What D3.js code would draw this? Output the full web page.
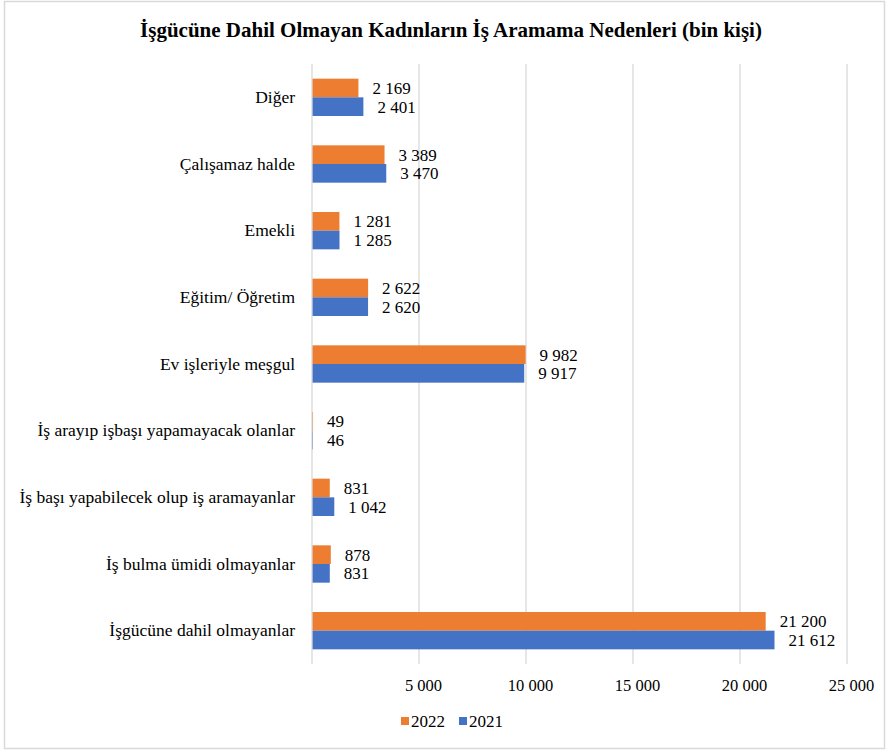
<!DOCTYPE html>
<html>
<head>
<script src="https://d3js.org/d3.v7.min.js"></script>
<style>
    body { margin: 0; background: #fff; }
    svg text { font-family: "Liberation Serif", "Times New Roman", serif !important; fill: #000; }
</style>
</head>
<body>
<div id="chart"></div>
<script>
    var categories = [
        "Diğer",
        "Çalışamaz halde",
        "Emekli",
        "Eğitim/ Öğretim",
        "Ev işleriyle meşgul",
        "İş arayıp işbaşı yapamayacak olanlar",
        "İş başı yapabilecek olup iş aramayanlar",
        "İş bulma ümidi olmayanlar",
        "İşgücüne dahil olmayanlar"
    ];
    var values2022 = [2169, 3389, 1281, 2622, 9982, 49, 831, 878, 21200];
    var values2021 = [2401, 3470, 1285, 2620, 9917, 46, 1042, 831, 21612];
    var tickValues = [5000, 10000, 15000, 20000, 25000];
    var seriesNames = ["2022", "2021"];
    var colors = { "2022": "#ED7D31", "2021": "#4472C4" };

    var width = 892, height = 751;
    var margin = { top: 64, left: 312 };
    var serif = "'Liberation Serif', 'Times New Roman', serif";

    var fmt = function(v) {
        return d3.format(",")(v).replace(/,/g, " ");
    };

    var svg = d3.select("#chart").append("svg")
        .attr("width", width)
        .attr("height", height)
        .attr("font-family", serif);

    // outer frame
    svg.append("rect")
        .attr("x", 4.5).attr("y", 1.5)
        .attr("width", 880).attr("height", 747)
        .attr("fill", "#fff")
        .attr("stroke", "#d9d9d9")
        .attr("stroke-width", 1.5);

    svg.append("text")
        .attr("x", 451).attr("y", 37)
        .attr("text-anchor", "middle")
        .attr("font-family", serif)
        .style("font-size", "21px")
        .style("font-weight", "bold")
        .text("İşgücüne Dahil Olmayan Kadınların İş Aramama Nedenleri (bin kişi)");

    var x = d3.scaleLinear()
        .domain([0, 25000])
        .range([margin.left, 847]);

    var y = d3.scaleBand()
        .domain(categories)
        .range([margin.top, 664])
        .paddingInner(0.44)
        .paddingOuter(0.22);

    var y1 = d3.scaleBand()
        .domain(seriesNames)
        .range([0, y.bandwidth()]);

    // gridlines
    svg.append("g")
        .selectAll("line")
        .data(tickValues)
        .join("line")
        .attr("x1", function(d) { return x(d); })
        .attr("x2", function(d) { return x(d); })
        .attr("y1", margin.top)
        .attr("y2", 664)
        .attr("stroke", "#d9d9d9")
        .attr("stroke-width", 1.3);

    // x axis labels
    var xAxis = d3.axisBottom(x)
        .tickValues(tickValues)
        .tickSize(0)
        .tickPadding(0)
        .tickFormat(fmt);

    svg.append("g")
        .attr("transform", "translate(4,679)")
        .call(xAxis)
        .attr("font-family", serif)
        .call(function(g) { g.select(".domain").remove(); })
        .selectAll("text")
        .attr("font-family", serif)
        .style("font-size", "16.5px");

    // bars
    var groups = svg.append("g")
        .selectAll("g")
        .data(categories)
        .join("g")
        .attr("transform", function(d) { return "translate(0," + y(d) + ")"; });

    var rows = groups.selectAll("g")
        .data(function(d, i) {
            return [
                { key: "2022", value: values2022[i] },
                { key: "2021", value: values2021[i] }
            ];
        })
        .join("g");

    rows.append("rect")
        .attr("x", x(0))
        .attr("y", function(d) { return y1(d.key); })
        .attr("width", function(d) { return x(d.value) - x(0); })
        .attr("height", y1.bandwidth())
        .attr("fill", function(d) { return colors[d.key]; });

    rows.append("text")
        .attr("x", function(d) { return x(d.value) + 14; })
        .attr("y", function(d) { return y1(d.key) + y1.bandwidth() / 2; })
        .attr("dy", "0.35em")
        .attr("font-family", serif)
        .style("font-size", "17px")
        .text(function(d) { return fmt(d.value); });

    // y axis
    var yAxis = d3.axisLeft(y).tickSize(0).tickPadding(17);
    svg.append("g")
        .attr("transform", "translate(" + margin.left + ",0)")
        .call(yAxis)
        .attr("font-family", serif)
        .call(function(g) { g.select(".domain").remove(); })
        .selectAll("text")
        .attr("font-family", serif)
        .style("font-size", "17.5px");

    svg.append("line")
        .attr("x1", x(0)).attr("x2", x(0))
        .attr("y1", margin.top).attr("y2", 664)
        .attr("stroke", "#d9d9d9")
        .attr("stroke-width", 1.3);

    // legend
    var legend = svg.append("g")
        .attr("transform", "translate(401,714)");
    var items = legend.selectAll("g")
        .data(seriesNames)
        .join("g")
        .attr("transform", function(d, i) { return "translate(" + (i * 58) + ",0)"; });
    items.append("rect")
        .attr("width", 8).attr("height", 8)
        .attr("y", 3)
        .attr("fill", function(d) { return colors[d]; });
    items.append("text")
        .attr("x", 10).attr("y", 7)
        .attr("dy", "0.35em")
        .attr("font-family", serif)
        .style("font-size", "17px")
        .text(function(d) { return d; });
</script>
</body>
</html>
